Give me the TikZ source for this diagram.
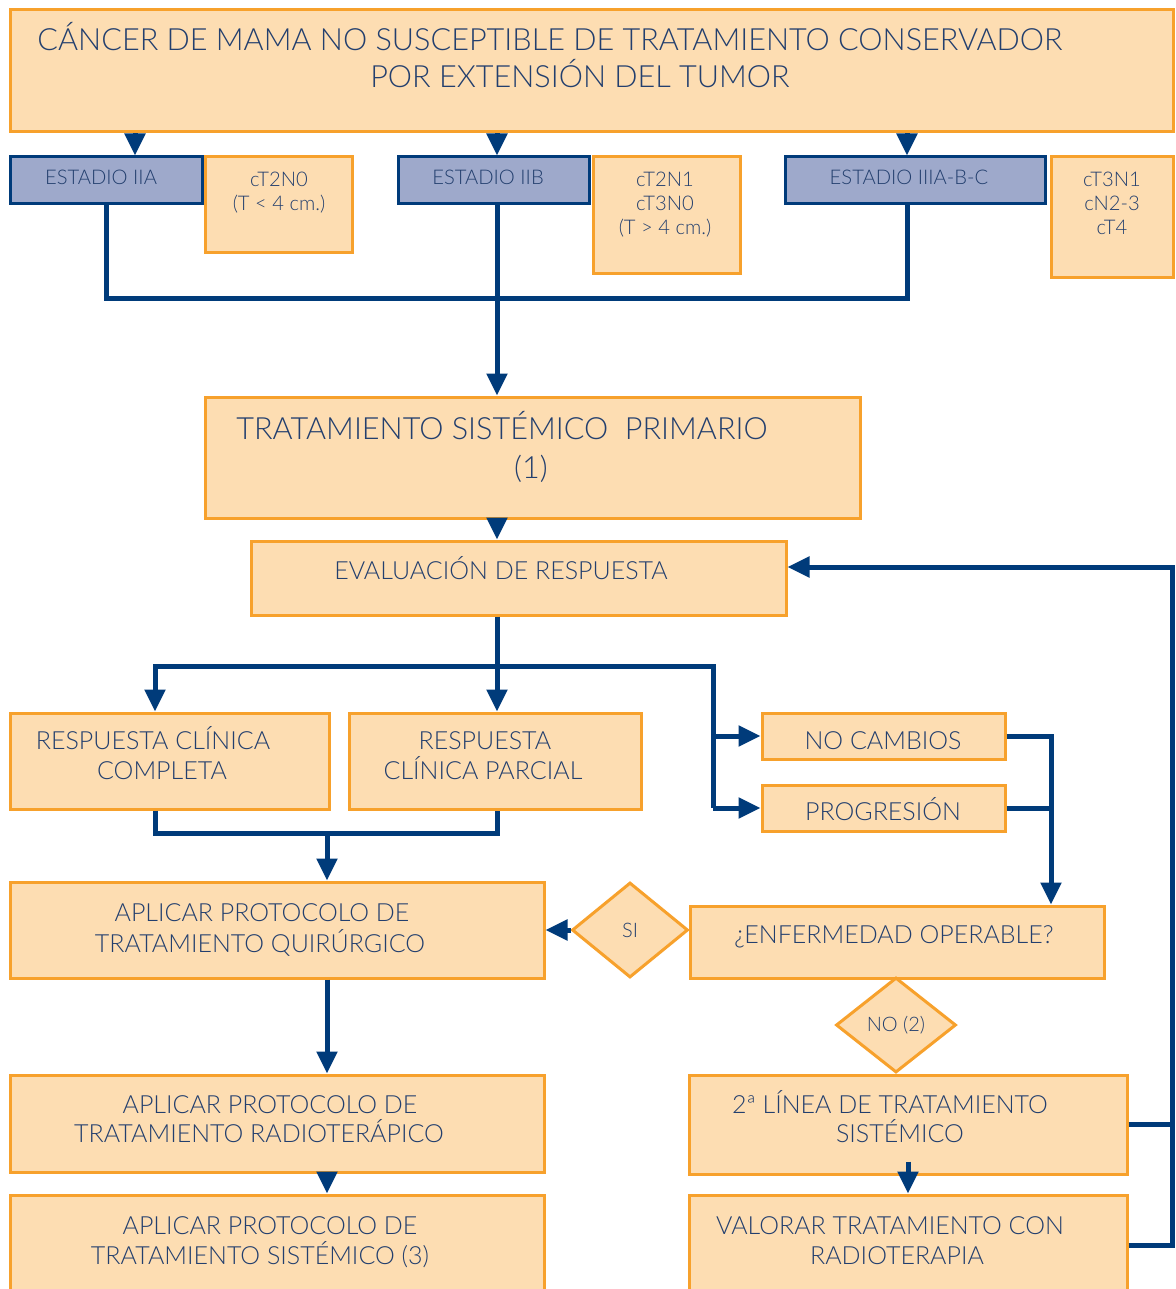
\documentclass[tikz,border=0pt]{standalone}
\usepackage{fontspec}
\setmainfont{Lato}[UprightFont=* Light]
\usetikzlibrary{arrows.meta,shapes.geometric}
\definecolor{navy}{HTML}{003B7A}
\definecolor{ink}{HTML}{233F6E}
\definecolor{peach}{HTML}{FDDDB2}
\definecolor{amber}{HTML}{F7A12C}
\definecolor{slate}{HTML}{9EA9CB}
\tikzset{
  obox/.style={draw=amber, fill=peach, line width=3pt, rectangle, inner sep=0pt},
  bbox/.style={draw=navy, fill=slate, line width=3pt, rectangle, inner sep=0pt},
  dbox/.style={draw=amber, fill=peach, line width=3pt, diamond, inner sep=0pt, text=ink, font=\fontsize{20}{22}\selectfont},
  ttl/.style={text=ink, anchor=base, inner sep=0pt, font=\fontsize{30.6}{34}\selectfont},
  txt/.style={text=ink, anchor=base, inner sep=0pt, font=\fontsize{25}{28}\selectfont},
  sml/.style={text=ink, anchor=base, inner sep=0pt, font=\fontsize{20.2}{22}\selectfont},
  wire/.style={draw=navy, line width=5pt, line join=miter},
  arr/.style={wire, -{Triangle[width=20pt,length=22pt]}},
}
\begin{document}
\begin{tikzpicture}[x=1pt,y=-1pt]
\clip (0,0) rectangle (1175,1289);
\useasboundingbox (0,0) rectangle (1175,1289);
\fill[white] (0,0) rectangle (1175,1289);

% column positions of the connectors
\coordinate (xa) at (135,0);
\coordinate (xb) at (497,0);
\coordinate (xc) at (907,0);
\coordinate (xl) at (155,0);
\coordinate (xm) at (327,0);
\coordinate (xs) at (713,0);
\coordinate (xn) at (1051,0);
\coordinate (xr) at (1172,0);
\coordinate (bus) at (0,298);
\coordinate (split) at (0,666);
\coordinate (join) at (0,833);
\coordinate (fb) at (0,567);

% header
\node[obox, minimum width=1163pt, minimum height=122pt] (title) at (591.5,71) {};
\node[ttl] (title1) at (550,51) {CÁNCER DE MAMA NO SUSCEPTIBLE DE TRATAMIENTO CONSERVADOR};
\node[ttl] (title2) at (580,88) {POR EXTENSIÓN DEL TUMOR};

% stages
\node[bbox, minimum width=192pt, minimum height=47pt] (IIA) at (106,180.5) {};
\node[sml] (IIAt) at (101,185) {ESTADIO IIA};
\node[bbox, minimum width=191pt, minimum height=47pt] (IIB) at (493.5,180.5) {};
\node[sml] (IIBt) at (488,185) {ESTADIO IIB};
\node[bbox, minimum width=260pt, minimum height=47pt] (IIIA) at (915,180.5) {};
\node[sml] (IIIAt) at (909,185) {ESTADIO IIIA-B-C};

\node[obox, minimum width=147pt, minimum height=95pt] (c1) at (278.5,204.5) {};
\node[sml] (c1a) at (279,187) {cT2N0};
\node[sml] (c1b) at (279,211) {(T < 4 cm.)};
\node[obox, minimum width=147pt, minimum height=116pt] (c2) at (666.5,215) {};
\node[sml] (c2a) at (665,187) {cT2N1};
\node[sml] (c2b) at (665,211) {cT3N0};
\node[sml] (c2c) at (665,235) {(T > 4 cm.)};
\node[obox, minimum width=122pt, minimum height=120pt] (c3) at (1112,217) {};
\node[sml] (c3a) at (1112,187) {cT3N1};
\node[sml] (c3b) at (1112,211) {cN2-3};
\node[sml] (c3c) at (1112,235) {cT4};

% primary systemic treatment and response
\node[obox, minimum width=655pt, minimum height=121pt] (TSP) at (532.5,457.5) {};
\node[ttl] (TSPa) at (502,439) {TRATAMIENTO SISTÉMICO\ \ PRIMARIO};
\node[ttl] (TSPb) at (531,478) {(1)};
\node[obox, minimum width=535pt, minimum height=74pt] (EVAL) at (518.5,578) {};
\node[txt] (EVALt) at (501,579) {EVALUACIÓN DE RESPUESTA};

\node[obox, minimum width=319pt, minimum height=96pt] (RCC) at (169.5,761) {};
\node[txt] (RCCa) at (153,749) {RESPUESTA CLÍNICA};
\node[txt] (RCCb) at (162,779) {COMPLETA};
\node[obox, minimum width=292pt, minimum height=96pt] (RCP) at (495,761) {};
\node[txt] (RCPa) at (485,749) {RESPUESTA};
\node[txt] (RCPb) at (483,779) {CLÍNICA PARCIAL};
\node[obox, minimum width=243pt, minimum height=46pt] (NOC) at (883.5,736) {};
\node[txt] (NOCt) at (883,749) {NO CAMBIOS};
\node[obox, minimum width=243pt, minimum height=46pt] (PROG) at (883.5,808) {};
\node[txt] (PROGt) at (883,820) {PROGRESIÓN};

% decisions
\node[obox, minimum width=534pt, minimum height=96pt] (AQ) at (277,930) {};
\node[txt] (AQa) at (262,921) {APLICAR PROTOCOLO DE};
\node[txt] (AQb) at (260,952) {TRATAMIENTO QUIRÚRGICO};
\node[dbox, minimum width=116pt, minimum height=95pt] (SI) at (630,930) {SI};
\node[obox, minimum width=414pt, minimum height=72pt] (ENF) at (897,942) {};
\node[txt] (ENFt) at (894,943) {¿ENFERMEDAD OPERABLE?};
\node[dbox, minimum width=120pt, minimum height=95pt] (NO) at (896,1025) {NO (2)};

\node[obox, minimum width=438pt, minimum height=99pt] (L2) at (908,1124.5) {};
\node[txt] (L2a) at (890,1113) {2ª LÍNEA DE TRATAMIENTO};
\node[txt] (L2b) at (900,1142) {SISTÉMICO};
\node[obox, minimum width=438pt, minimum height=100pt] (VAL) at (908,1245) {};
\node[txt] (VALa) at (890,1234) {VALORAR TRATAMIENTO CON};
\node[txt] (VALb) at (897,1264) {RADIOTERAPIA};

\node[obox, minimum width=534pt, minimum height=97pt] (AR) at (277,1123.5) {};
\node[txt] (ARa) at (270,1113) {APLICAR PROTOCOLO DE};
\node[txt] (ARb) at (259,1142) {TRATAMIENTO RADIOTERÁPICO};
\node[obox, minimum width=534pt, minimum height=100pt] (AS) at (277,1245) {};
\node[txt] (ASa) at (270,1234) {APLICAR PROTOCOLO DE};
\node[txt] (ASb) at (260,1264) {TRATAMIENTO SISTÉMICO (3)};

% connectors
\draw[arr] (title.south -| xa) -- (IIA.north -| xa);
\draw[arr] (title.south -| xb) -- (IIB.north -| xb);
\draw[arr] (title.south -| xc) -- (IIIA.north -| xc);
\draw[wire] (IIA.south) |- (bus -| xc) -- (IIIA.south -| xc);
\draw[arr] (IIB.south -| xb) -- (TSP.north -| xb);
\draw[arr] (TSP.south -| xb) -- (EVAL.north -| xb);
\draw[wire] (EVAL.south -| xb) -- (split -| xb);
\draw[arr] (split -| xb) -| (RCC.north -| xl);
\draw[arr] (split -| xb) -- (RCP.north -| xb);
\draw[wire] (split -| xb) -| (PROG.west -| xs);
\draw[arr] (NOC.west -| xs) -- (NOC.west);
\draw[arr] (PROG.west -| xs) -- (PROG.west);
\draw[arr] (NOC.east) -| (ENF.north -| xn);
\draw[wire] (PROG.east) -- (PROG.east -| xn);
\draw[wire] (RCC.south -| xl) |- (join -| xb) -- (RCP.south -| xb);
\draw[arr] (join -| xm) -- (AQ.north -| xm);
\draw[arr] (SI.west) -- (AQ.east);
\draw[arr] (AQ.south -| xm) -- (AR.north -| xm);
\draw[arr] (AR.south -| xm) -- (AS.north -| xm);
\draw[arr] ([yshift=14pt]L2.south) -- (VAL.north);
\draw[wire] (L2.east) -- (L2.east -| xr);
\draw[arr] (VAL.east) -| (fb -| xr) -- (fb -| EVAL.east);
\end{tikzpicture}
\end{document}
